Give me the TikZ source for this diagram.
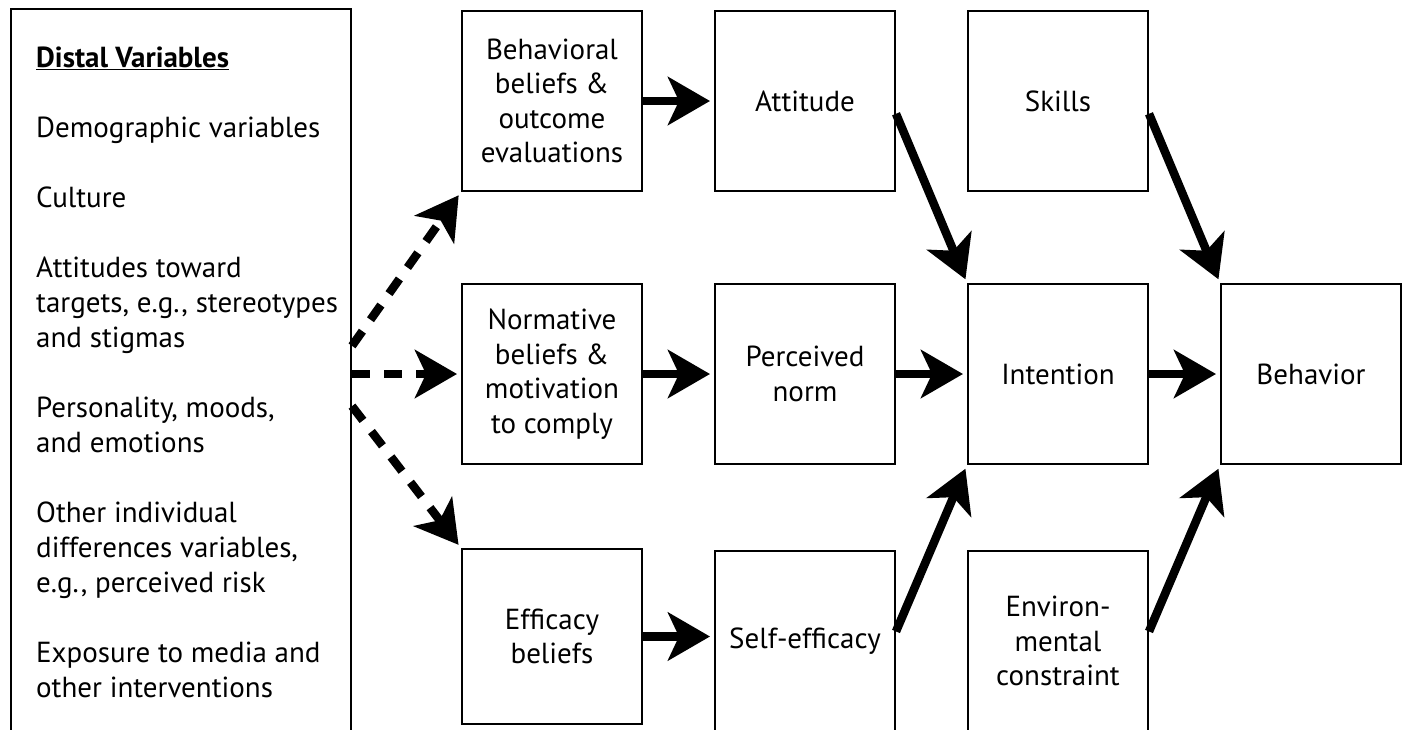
\documentclass[tikz,border=0pt]{standalone}
\usepackage{fontspec}
\setmainfont{PT Sans}
\usetikzlibrary{arrows.meta,positioning}

\newcommand\boxfont{\fontsize{29}{34.5}\selectfont}
\newcommand\listfont{\fontsize{29}{35}\selectfont}

\tikzset{
  box/.style={draw, line width=2pt, minimum width=180pt, minimum height=180pt,
    inner sep=0pt, align=center, font=\boxfont},
  solidarrow/.style={line width=8.5pt, -{Stealth[length=42pt,width=48pt,inset=11pt]},
    shorten >=4pt},
  dasharrow/.style={solidarrow, dash pattern=on 18pt off 14pt},
}

\begin{document}
\begin{tikzpicture}[x=1pt,y=-1pt]
\clip (0,0) rectangle (1406,729);

% distal variables
\node[draw, line width=2pt, minimum width=340pt, minimum height=734pt,
  inner sep=0pt, anchor=north west] (distal) at (10,8) {};
\node[below right=39pt and 26pt of distal.north west, align=left,
  inner sep=0pt, font=\listfont] (distaltext) {%
\underline{\textbf{Distal Variables}}\\[35pt]
Demographic variables\\[35pt]
Culture\\[35pt]
Attitudes toward\\
targets, e.g., stereotypes\\
and stigmas\\[35pt]
Personality, moods,\\
and emotions\\[35pt]
Other individual\\
differences variables,\\
e.g., perceived risk\\[35pt]
Exposure to media and\\
other interventions};

% top row
\node[box, anchor=north west] (behav) at (461,10) {Behavioral\\beliefs \&\\outcome\\evaluations};
\node[box, right=71pt of behav] (attitude) {Attitude};
\node[box, right=71pt of attitude] (skills) {Skills};

% middle row
\node[box, below=91pt of behav] (normative) {Normative\\beliefs \&\\motivation\\to comply};
\node[box, right=71pt of normative] (norm) {Perceived\\norm};
\node[box, right=71pt of norm] (intention) {Intention};
\node[box, right=71pt of intention] (behavior) {Behavior};

% bottom row
\node[box, below=83pt of normative, minimum height=175pt] (effbel) {Efficacy\\beliefs};
\node[box, right=71pt of effbel.north east, anchor=north west, yshift=-2pt] (selfeff) {Self-efficacy};
\node[box, right=71pt of selfeff] (environ) {Environ-\\mental\\constraint};

% arrows
\draw[solidarrow] (behav) -- (attitude);
\draw[solidarrow] (normative) -- (norm);
\draw[solidarrow] (norm) -- (intention);
\draw[solidarrow] (intention) -- (behavior);
\draw[solidarrow] (effbel) -- (effbel -| selfeff.west);
\draw[solidarrow] (attitude.-8) -- (intention.north west);
\draw[solidarrow] (skills.-8) -- (behavior.north west);
\draw[solidarrow] (selfeff.6) -- (intention.south west);
\draw[solidarrow] (environ.6) -- (behavior.south west);

% dashed arrows from the distal variables
\draw[dasharrow] (distal.10) -- (behav.south west);
\draw[dasharrow] (distal.east |- normative.west) -- (normative.west);
\draw[dasharrow] (distal.-10) -- (effbel.north west);
\end{tikzpicture}
\end{document}
